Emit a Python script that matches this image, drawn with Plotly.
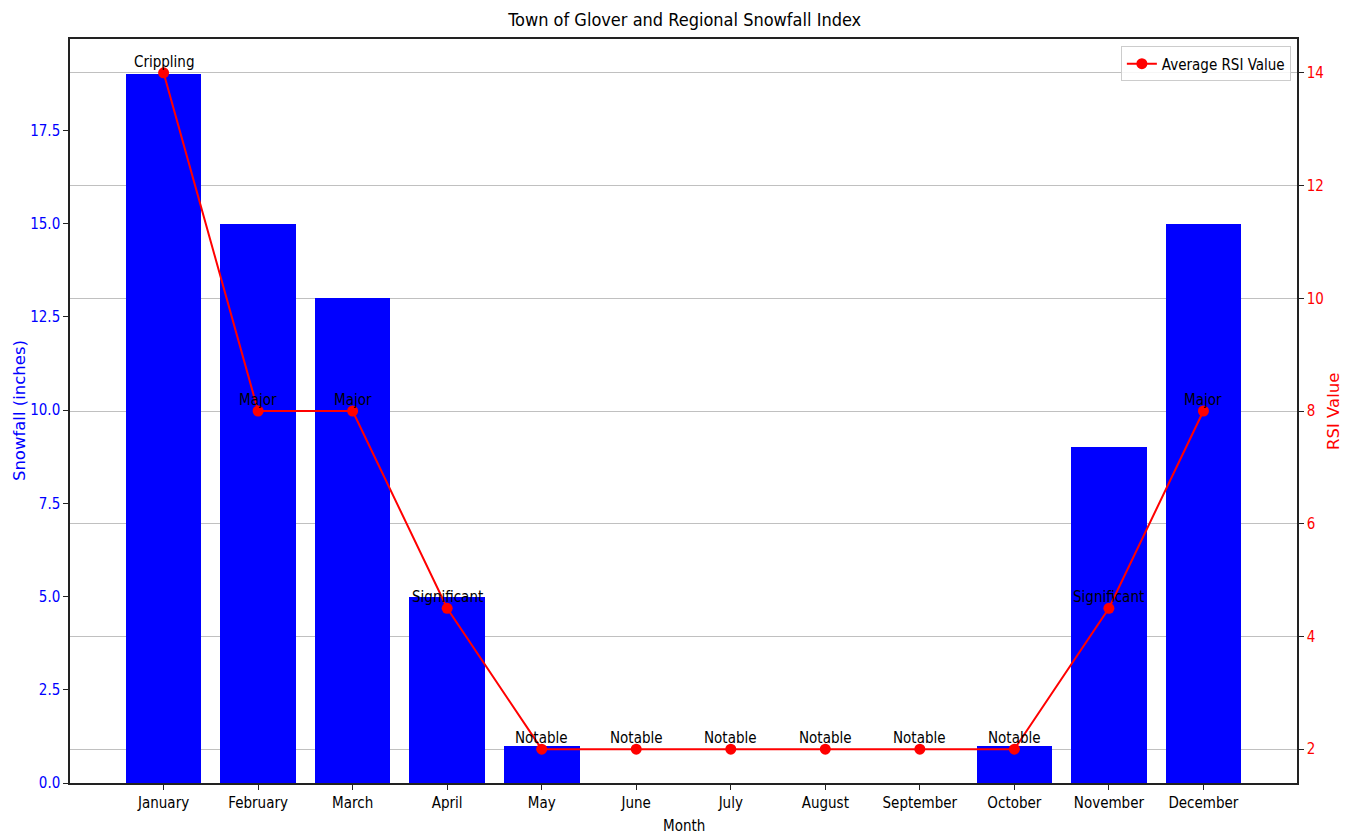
import plotly.graph_objects as go

months = ["January", "February", "March", "April", "May", "June", "July",
          "August", "September", "October", "November", "December"]
snowfall = [19, 15, 13, 5, 1, 0, 0, 0, 0, 1, 9, 15]
rsi_values = [14, 8, 8, 4.5, 2, 2, 2, 2, 2, 2, 4.5, 8]
rsi_labels = ["Crippling", "Major", "Major", "Significant", "Notable", "Notable",
              "Notable", "Notable", "Notable", "Notable", "Significant", "Major"]
left_ticks = [0, 2.5, 5.0, 7.5, 10.0, 12.5, 15.0, 17.5]
right_ticks = [2, 4, 6, 8, 10, 12, 14]

COND = "DejaVu Sans Condensed, Liberation Sans Narrow, DejaVu Sans"
NORM = "DejaVu Sans"
idx = list(range(len(months)))

fig = go.Figure()
fig.add_trace(go.Bar(x=idx, y=snowfall, width=0.8, marker=dict(color="#0000ff", line=dict(width=0)),
                     showlegend=False, yaxis="y"))
fig.add_trace(go.Scatter(x=idx, y=rsi_values, mode="lines+markers", name="Average RSI Value",
                         line=dict(color="#ff0000", width=2), marker=dict(color="#ff0000", size=11),
                         yaxis="y2"))

for i, (v, lab) in enumerate(zip(rsi_values, rsi_labels)):
    fig.add_annotation(x=i, y=v, xref="x", yref="y2", text=lab, showarrow=False,
                       yanchor="bottom", xanchor="center",
                       font=dict(family=COND, size=15, color="black"))

# axis titles
fig.add_annotation(x=-0.0415, y=0.5, xref="paper", yref="paper", text="Snowfall (inches)",
                   textangle=-90, showarrow=False, xanchor="center", yanchor="middle",
                   font=dict(family=NORM, size=16.5, color="#0000ff"))
fig.add_annotation(x=1.0293, y=0.5, xref="paper", yref="paper", text="RSI Value",
                   textangle=-90, showarrow=False, xanchor="center", yanchor="middle",
                   font=dict(family=NORM, size=16.5, color="#ff0000"))
fig.add_annotation(x=0.5, y=-0.0577, xref="paper", yref="paper", text="Month",
                   showarrow=False, xanchor="center", yanchor="middle",
                   font=dict(family=COND, size=15, color="black"))

fig.update_layout(
    width=1340, height=828,
    margin=dict(l=62, r=51, t=31, b=53),
    paper_bgcolor="white", plot_bgcolor="white",
    title=dict(text="Town of Glover and Regional Snowfall Index", x=0.505, xanchor="center",
               y=0.9855, yanchor="middle", font=dict(family=COND, size=18, color="black")),
    xaxis=dict(range=[-0.99, 11.99], tickmode="array", tickvals=idx, ticktext=months,
               showgrid=False, zeroline=False, showline=True, linecolor="#222", linewidth=1.5,
               mirror=True, ticks="outside", ticklen=5, tickcolor="#222", automargin=False,
               tickfont=dict(family=COND, size=15, color="black")),
    yaxis=dict(range=[0, 19.95], tickmode="array", tickvals=left_ticks,
               ticktext=[f"{t:.1f}" for t in left_ticks], automargin=False,
               showgrid=False, zeroline=False, showline=True, linecolor="#222", linewidth=1.5,
               ticks="outside", ticklen=5, tickcolor="#222",
               tickfont=dict(family=COND, size=15, color="#0000ff")),
    yaxis2=dict(range=[1.4, 14.6], overlaying="y", side="right", tickmode="array",
                tickvals=right_ticks, showgrid=True, gridcolor="#c0c0c0", gridwidth=1.3,
                zeroline=False, showline=True, linecolor="#222", linewidth=1.5, automargin=False,
                ticks="outside", ticklen=5, tickcolor="#222",
                tickfont=dict(family=COND, size=15, color="#ff0000")),
    legend=dict(x=0.995, y=0.99, xanchor="right", yanchor="top",
                bgcolor="rgba(255,255,255,0.85)", bordercolor="#cccccc", borderwidth=1,
                font=dict(family=COND, size=15, color="black")),
    bargap=0,
)

fig.write_html("out.html")
